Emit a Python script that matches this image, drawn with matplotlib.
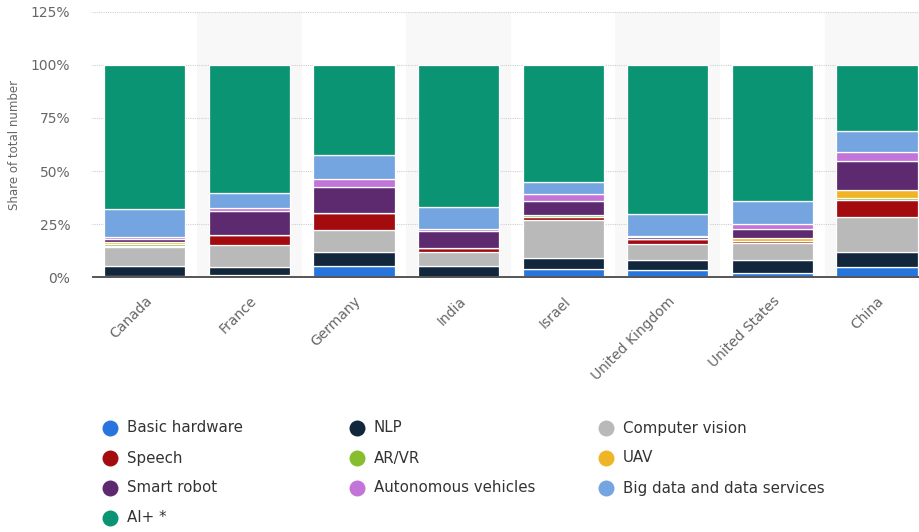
import matplotlib
matplotlib.use("Agg")
import matplotlib.pyplot as plt
import numpy as np

# ─── data (share of total number, %) ─────────────────────────────────────────
countries = ["Canada", "France", "Germany", "India", "Israel",
             "United Kingdom", "United States", "China"]

basic_hardware = [0.6, 1.0, 5.3, 0.3, 4.0, 3.5, 2.0, 4.8]
nlp            = [4.8, 4.0, 6.7, 5.0, 5.3, 4.7, 6.2, 7.0]
computer_vis   = [8.7, 10.4, 10.4, 6.5, 17.8, 7.4, 7.8, 16.5]
speech         = [0.5, 4.3, 8.0, 2.2, 1.2, 2.3, 1.2, 7.9]
ar_vr          = [1.3, 0.0, 0.0, 0.0, 0.8, 0.0, 0.0, 1.3]
uav            = [0.6, 0.0, 0.0, 0.0, 0.4, 0.0, 1.5, 3.6]
smart_robot    = [1.4, 11.5, 12.2, 7.8, 6.6, 1.0, 4.0, 13.6]
autonomous     = [0.9, 1.3, 3.7, 0.7, 3.0, 0.5, 2.6, 4.2]
big_data       = [13.4, 7.0, 11.2, 10.7, 5.6, 10.5, 10.5, 9.9]
ai_plus        = [67.8, 60.5, 42.5, 66.8, 55.3, 70.1, 64.2, 31.2]

series_names = ["Basic hardware", "NLP", "Computer vision", "Speech", "AR/VR",
                "UAV", "Smart robot", "Autonomous vehicles",
                "Big data and data services", "AI+ *"]
series_values = [basic_hardware, nlp, computer_vis, speech, ar_vr,
                 uav, smart_robot, autonomous, big_data, ai_plus]
COLORS = ["#2876dd", "#12263c", "#b9b9b9", "#a30b0f", "#88bd2e",
          "#efb527", "#5d2a70", "#c274d8", "#75a5e0", "#0b9474"]

yticks = [0, 25, 50, 75, 100, 125]

# ─── figure ──────────────────────────────────────────────────────────────────
W, H = 920, 532
fig = plt.figure(figsize=(W / 100, H / 100), dpi=100)
n = len(countries)
step = 104.6
ax_w = n * step
ax = fig.add_axes([92.5 / W, (H - 277.3) / H, ax_w / W, (277.3 - 11.7) / H])

x = np.arange(n)
for i in range(1, n, 2):
    ax.axvspan(i - 0.5, i + 0.5, color="#f8f8f8", zorder=0, lw=0)

bottom = np.zeros(n)
for name, vals, col in zip(series_names, series_values, COLORS):
    vals = np.array(vals)
    ax.bar(x, vals, 0.775, bottom=bottom, color=col, edgecolor="white",
           linewidth=0.9, zorder=3, label=name)
    bottom += vals

ax.set_xlim(-0.5, n - 0.5)
ax.set_ylim(0, 125)
ax.set_yticks(yticks)
ax.set_yticklabels([f"{v}%" for v in yticks])
ax.yaxis.grid(True, linestyle=(0, (1, 1)), color="#cfcfcf", lw=0.8, zorder=1)
ax.set_axisbelow(True)
for s in ["top", "right", "left"]:
    ax.spines[s].set_visible(False)
ax.spines["bottom"].set_color("#555555")
ax.spines["bottom"].set_linewidth(1.4)
ax.spines["bottom"].set_zorder(5)
ax.tick_params(axis="y", length=0, pad=16, labelsize=10, labelcolor="#666666")
ax.tick_params(axis="x", length=0, pad=12)
ax.set_xticks(x)
ax.set_xticklabels(countries, rotation=45, ha="right", va="top",
                   rotation_mode="anchor", fontsize=10, color="#666666")
ax.set_ylabel("Share of total number", fontsize=8.5, color="#666666")
ax.yaxis.set_label_coords(-71 / ax_w, 0.5)

# ─── legend (3 columns, row-major order) ─────────────────────────────────────
lax = fig.add_axes([0, 0, 1, 1])
lax.set_xlim(0, W)
lax.set_ylim(H, 0)
lax.axis("off")
col_x = [110, 357, 606]
row_y = [428, 458, 488, 518]
for k, (name, col) in enumerate(zip(series_names, COLORS)):
    r, c = divmod(k, 3)
    lax.plot(col_x[c], row_y[r], "o", ms=11.5, color=col, mec="none")
    lax.text(col_x[c] + 17, row_y[r], name, fontsize=10.8, color="#333333",
             va="center", ha="left")

fig.savefig("out.png", dpi=100)
